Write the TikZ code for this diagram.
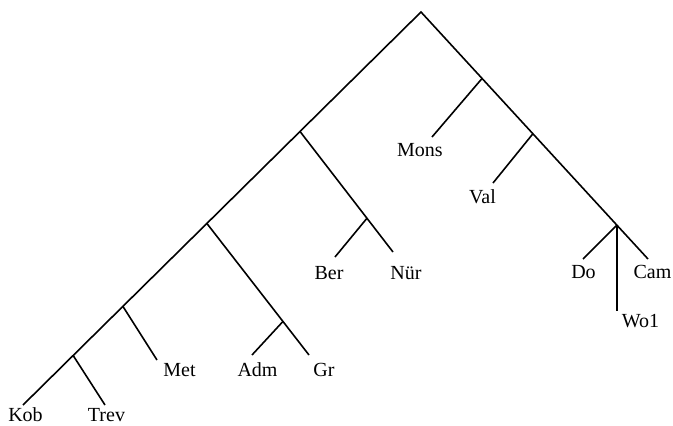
\documentclass[tikz,border=0pt]{standalone}
\usepackage{fontspec}
\setmainfont{Liberation Serif}
\usetikzlibrary{positioning,calc}

\begin{document}
\begin{tikzpicture}[
  x=1pt,y=-1pt,
  branch/.style={line width=1.6pt},
  leaf/.style={inner sep=0pt,anchor=base,font=\fontsize{20}{23}\selectfont}
]
\useasboundingbox (0,0) rectangle (673,426);
% trunk ends
\coordinate (R) at (421,12);
\coordinate (EKob) at (23,405);
\coordinate (ECam) at (648,259);
% junctions on the trunks
\coordinate (JNur) at ($(R)!0.304!(EKob)$);
\coordinate (JAdm) at ($(R)!0.538!(EKob)$);
\coordinate (JMet) at ($(R)!0.749!(EKob)$);
\coordinate (JTrev) at ($(R)!0.874!(EKob)$);
\coordinate (JMons) at ($(R)!0.269!(ECam)$);
\coordinate (JVal) at ($(R)!0.493!(ECam)$);
\coordinate (JDo) at ($(R)!0.863!(ECam)$);
% branch ends
\coordinate (ENur) at (393,252);
\coordinate (JBer) at ($(JNur)!0.72!(ENur)$);
\coordinate (EBer) at (335,257);
\coordinate (EGr) at (309,355);
\coordinate (JGr) at ($(JAdm)!0.745!(EGr)$);
\coordinate (EAdm) at (252,355);
\coordinate (EMet) at (157,360);
\coordinate (ETrev) at (105,405);
\coordinate (EMons) at (432,137);
\coordinate (EVal) at (493,183);
\coordinate (EDo) at (583,259);
\coordinate (EWo) at ($(JDo)+(0,86)$);
% labels
\node[leaf] (Kob) at (25.5,421) {Kob};
\node[leaf] (Trev) at (106.5,421) {Trev};
\node[leaf] (Met) at (179.5,376) {Met};
\node[leaf] (Adm) at (257.5,376) {Adm};
\node[leaf] (Gr) at (324,376) {Gr};
\node[leaf] (Ber) at (329,279) {Ber};
\node[leaf] (Nur) at (406,279) {Nür};
\node[leaf] (Mons) at (420,156) {Mons};
\node[leaf] (Val) at (482.5,203) {Val};
\node[leaf] (Do) at (583.5,278) {Do};
\node[leaf] (Cam) at (652.5,278) {Cam};
\node[leaf] (Wo) at (640.5,327) {Wo1};
% tree
\draw[branch] (EKob) -- (R) -- (ECam);
\draw[branch] (JNur) -- (ENur);
\draw[branch] (JBer) -- (EBer);
\draw[branch] (JAdm) -- (EGr);
\draw[branch] (JGr) -- (EAdm);
\draw[branch] (JMet) -- (EMet);
\draw[branch] (JTrev) -- (ETrev);
\draw[branch] (JMons) -- (EMons);
\draw[branch] (JVal) -- (EVal);
\draw[branch] (JDo) -- (EDo);
\draw[branch] (JDo) -- (EWo);
\end{tikzpicture}
\end{document}
